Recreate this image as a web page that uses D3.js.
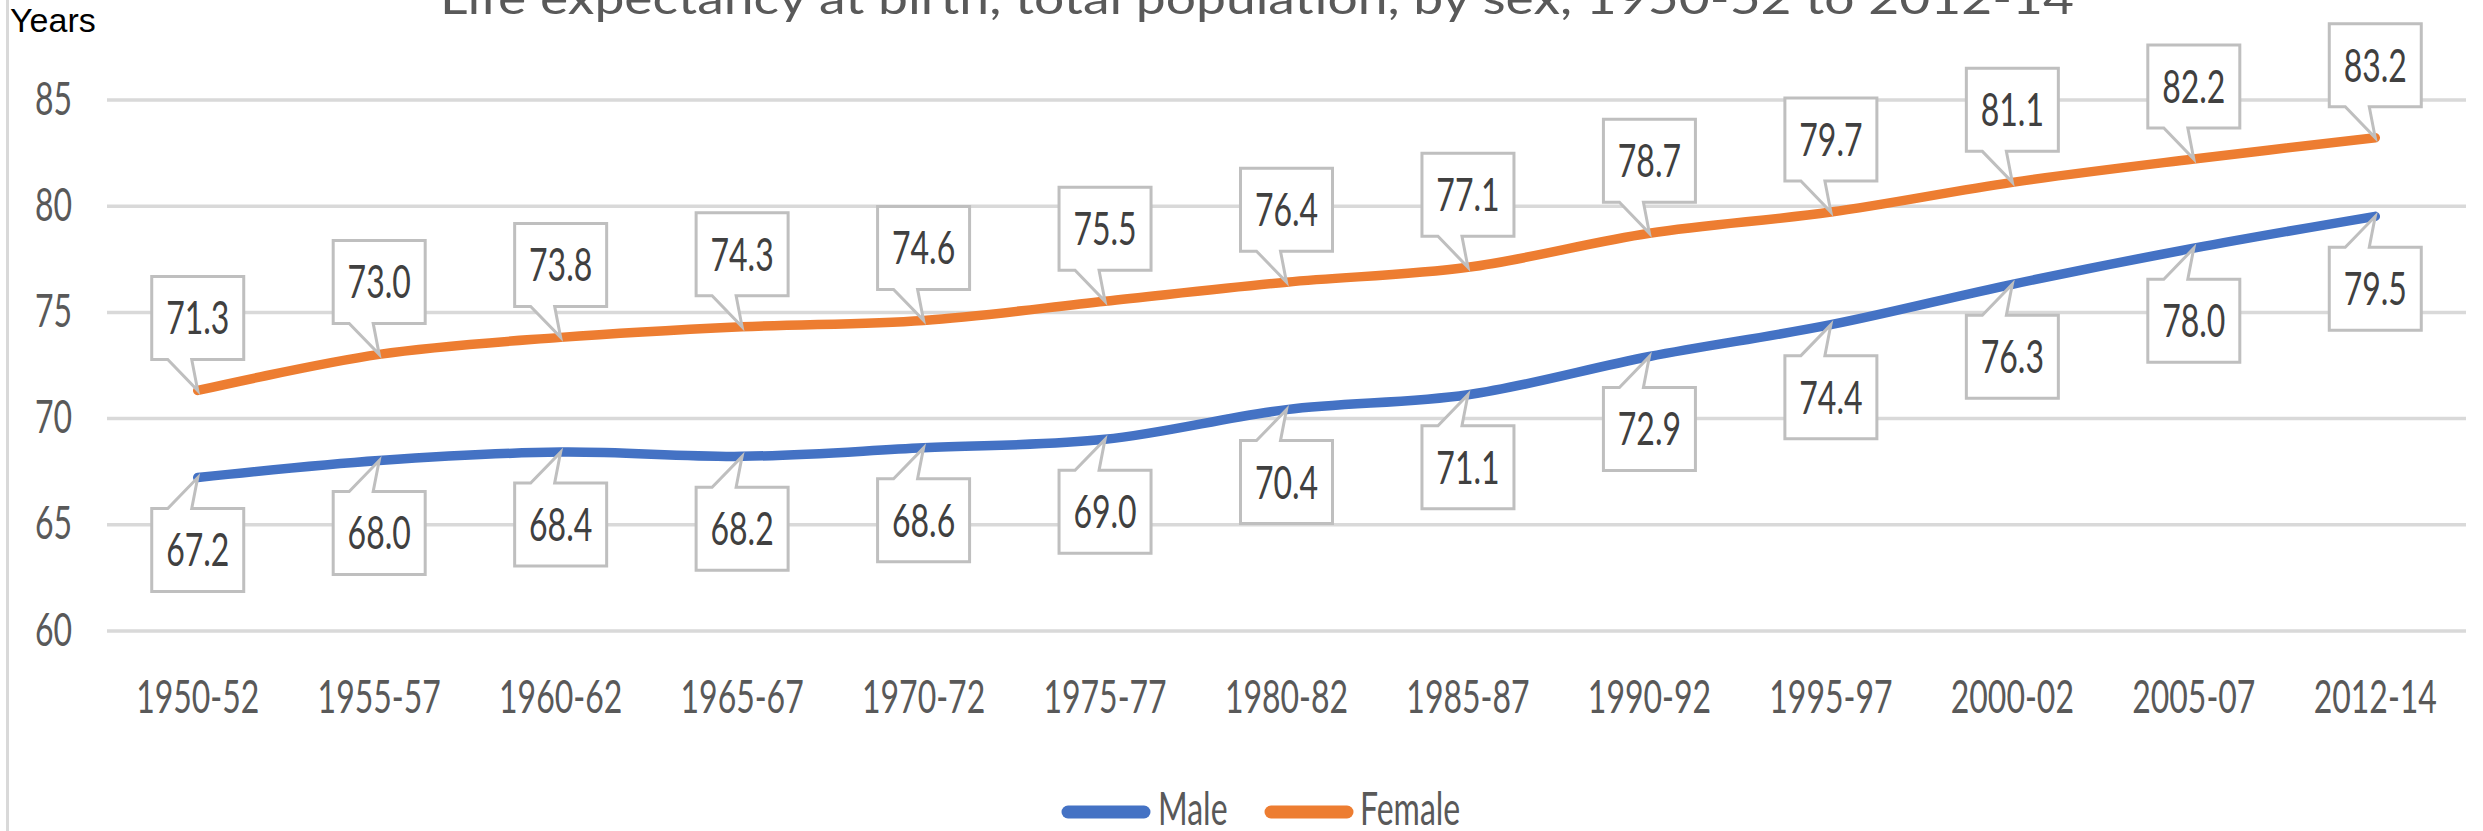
<!DOCTYPE html>
<html>
<head>
<meta charset="utf-8">
<script src="https://cdn.jsdelivr.net/npm/d3@7"></script>
<style>
  html, body { margin: 0; padding: 0; background: #fff; }
  svg { display: block; }
  text { font-family: Lato, "Open Sans", sans-serif; }
</style>
</head>
<body>
<svg id="chart" width="2483" height="831"></svg>
<script>
const periods = ['1950-52', '1955-57', '1960-62', '1965-67', '1970-72', '1975-77', '1980-82',
  '1985-87', '1990-92', '1995-97', '2000-02', '2005-07', '2012-14'];
const male = [67.2, 68.0, 68.4, 68.2, 68.6, 69.0, 70.4, 71.1, 72.9, 74.4, 76.3, 78.0, 79.5];
const female = [71.3, 73.0, 73.8, 74.3, 74.6, 75.5, 76.4, 77.1, 78.7, 79.7, 81.1, 82.2, 83.2];
const yTicks = [60, 65, 70, 75, 80, 85];

const series = [
  { name: 'Male', values: male, color: '#4472c4', below: true },
  { name: 'Female', values: female, color: '#ed7d31', below: false },
];

const W = 2483;
const H = 831;
const plot = { left: 107, right: 2466, top: 99.5, bottom: 630.5 };
const STRETCH = 1.42; // the source picture is stretched vertically
const tall = (dx, dy) => `translate(${dx},${dy}) scale(1,${STRETCH})`;

const svg = d3.select('#chart');

const x = d3.scaleBand().domain(periods).range([plot.left, plot.right]);
const y = d3.scaleLinear().domain([60, 85]).range([plot.bottom, plot.top]);
const cx = (d) => x(d) + x.bandwidth() / 2;

// left frame edge
svg.append('line')
  .attr('x1', 7.5).attr('x2', 7.5).attr('y1', 0).attr('y2', H)
  .attr('stroke', '#d9d9d9').attr('stroke-width', 3);

// title, mostly clipped at the top in the original
svg.append('text')
  .attr('x', 1257).attr('y', 14)
  .attr('text-anchor', 'middle')
  .attr('font-size', 44)
  .attr('fill', '#595959')
  .attr('textLength', 1634)
  .attr('lengthAdjust', 'spacingAndGlyphs')
  .text('Life expectancy at birth, total population, by sex, 1950-52 to 2012-14');

svg.append('text')
  .attr('x', 10).attr('y', 32)
  .style('font-family', '"Liberation Sans", Arial, sans-serif')
  .attr('font-size', 34)
  .attr('fill', '#000')
  .text('Years');

// y axis with gridlines
const yAxis = svg.append('g')
  .attr('transform', `translate(${plot.left},0)`)
  .call(d3.axisLeft(y).tickValues(yTicks).tickSize(-(plot.right - plot.left)).tickPadding(0));
yAxis.select('.domain').remove();
yAxis.selectAll('.tick line').attr('stroke', '#d9d9d9').attr('stroke-width', 3.5);
yAxis.selectAll('.tick text')
  .attr('x', null).attr('dy', null)
  .attr('transform', tall(-35, 14.5))
  .attr('text-anchor', 'end')
  .attr('font-size', 32)
  .attr('fill', '#595959');

// x axis labels
const xAxis = svg.append('g')
  .attr('transform', `translate(0,${plot.bottom})`)
  .call(d3.axisBottom(x).tickSize(0).tickPadding(0));
xAxis.select('.domain').remove();
xAxis.selectAll('.tick text')
  .attr('y', null).attr('dy', null)
  .attr('transform', tall(0, 82.5))
  .attr('font-size', 32)
  .attr('fill', '#595959');

// lines
const line = d3.line()
  .x((d, i) => cx(periods[i]))
  .y((d) => y(d))
  .curve(d3.curveCatmullRom.alpha(0.5));

svg.append('g')
  .selectAll('path')
  .data(series)
  .join('path')
  .attr('d', (s) => line(s.values))
  .attr('fill', 'none')
  .attr('stroke', (s) => s.color)
  .attr('stroke-width', 9.5)
  .attr('stroke-linejoin', 'round')
  .attr('stroke-linecap', 'round');

// callout data labels
const BOX_W = 92;
const BOX_H = 83;
const GAP = 31;

function calloutPath(px, py, below) {
  const l = px - BOX_W / 2;
  const r = px + BOX_W / 2;
  const a = px - 30;
  const b = px - 6;
  if (below) {
    const t = py + GAP;
    const bt = t + BOX_H;
    return `M${l},${t}L${a},${t}L${px},${py}L${b},${t}L${r},${t}L${r},${bt}L${l},${bt}Z`;
  }
  const bt = py - GAP;
  const t = bt - BOX_H;
  return `M${l},${t}L${r},${t}L${r},${bt}L${b},${bt}L${px},${py}L${a},${bt}L${l},${bt}Z`;
}

const labels = series.flatMap((s) =>
  s.values.map((v, i) => ({ v, px: cx(periods[i]), py: y(v), below: s.below })));

const callouts = svg.append('g')
  .selectAll('g')
  .data(labels)
  .join('g');

callouts.append('path')
  .attr('d', (d) => calloutPath(d.px, d.py, d.below))
  .attr('fill', '#fff')
  .attr('stroke', '#bfbfbf')
  .attr('stroke-width', 3)
  .attr('stroke-linejoin', 'miter');

callouts.append('text')
  .attr('text-anchor', 'middle')
  .attr('transform', (d) => {
    const mid = d.below ? d.py + GAP + BOX_H / 2 : d.py - GAP - BOX_H / 2;
    return tall(d.px, mid + 16.4);
  })
  .attr('font-size', 32)
  .attr('fill', '#404040')
  .text((d) => d.v.toFixed(1));

// legend
const legendItems = [
  { name: 'Male', color: '#4472c4', x0: 1062, x1: 1150, tx: 1158 },
  { name: 'Female', color: '#ed7d31', x0: 1265, x1: 1353, tx: 1360 },
];
const legend = svg.append('g')
  .selectAll('g')
  .data(legendItems)
  .join('g');
legend.append('line')
  .attr('x1', (d) => d.x0 + 6).attr('x2', (d) => d.x1 - 6)
  .attr('y1', 812).attr('y2', 812)
  .attr('stroke', (d) => d.color)
  .attr('stroke-width', 13)
  .attr('stroke-linecap', 'round');
legend.append('text')
  .attr('transform', (d) => tall(d.tx, 825))
  .attr('font-size', 32)
  .attr('fill', '#595959')
  .text((d) => d.name);
</script>
</body>
</html>
